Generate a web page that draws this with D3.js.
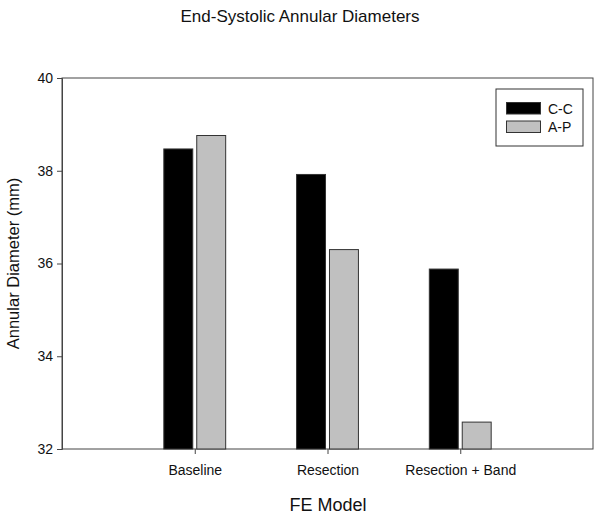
<!DOCTYPE html>
<html>
<head>
<meta charset="utf-8">
<script src="https://cdn.jsdelivr.net/npm/d3@7"></script>
<style>
  body { margin: 0; background: #fff; }
  text { font-family: "Liberation Sans", Arial, sans-serif; fill: #111; }
</style>
</head>
<body>
<svg id="chart" width="600" height="517"></svg>
<script>
const categories = ["Baseline", "Resection", "Resection + Band"];
const seriesNames = ["C-C", "A-P"];
const ccValues = [38.47, 37.92, 35.88];
const apValues = [38.76, 36.30, 32.58];
const yTicks = [32, 34, 36, 38, 40];
const seriesColors = ["#000000", "#c0c0c0"];

const svg = d3.select("#chart");
const margin = {left: 62, right: 7, top: 78, bottom: 68};
const W = 600, H = 517;
const plotW = W - margin.left - margin.right;
const plotH = H - margin.top - margin.bottom;

const x = d3.scaleLinear().domain([0, categories.length + 1]).range([margin.left, margin.left + plotW]);
const y = d3.scaleLinear().domain([32, 40]).range([margin.top + plotH, margin.top]);

const barW = 0.218; // in category units
const gapHalf = 0.015;

// frame
svg.append("rect")
  .attr("x", margin.left).attr("y", margin.top)
  .attr("width", plotW).attr("height", plotH)
  .attr("fill", "none").attr("stroke", "#444").attr("stroke-width", 1);

const series = [ccValues, apValues];
series.forEach((vals, si) => {
  svg.append("g").selectAll("rect").data(vals).join("rect")
    .attr("x", (d, i) => si === 0 ? x(i + 1 - gapHalf - barW) : x(i + 1 + gapHalf))
    .attr("width", x(barW) - x(0))
    .attr("y", d => y(d))
    .attr("height", d => y(32) - y(d))
    .attr("fill", seriesColors[si])
    .attr("stroke", "#333").attr("stroke-width", 1);
});

// y axis
const yAxis = d3.axisLeft(y).tickValues(yTicks).tickSize(5).tickPadding(4).tickFormat(d3.format("d"));
const gy = svg.append("g").attr("transform", `translate(${margin.left},0)`).call(yAxis);
gy.select(".domain").attr("stroke", "#444");
gy.selectAll(".tick line").attr("stroke", "#444");
gy.selectAll(".tick text").style("font-size", "14px").style("font-family", "Liberation Sans, Arial, sans-serif").attr("fill", "#111");

// x axis
const xAxis = d3.axisBottom(x).tickValues(categories.map((c, i) => i + 1))
  .tickFormat((d) => categories[d - 1]).tickSize(5).tickPadding(11);
const gx = svg.append("g").attr("transform", `translate(0,${margin.top + plotH})`).call(xAxis);
gx.select(".domain").remove();
gx.selectAll(".tick line").attr("stroke", "#444");
gx.selectAll(".tick text").style("font-size", "14px").style("font-family", "Liberation Sans, Arial, sans-serif").attr("fill", "#111");

// title
svg.append("text").attr("x", 300).attr("y", 22).attr("text-anchor", "middle")
  .style("font-size", "17px").text("End-Systolic Annular Diameters");

// axis titles
svg.append("text").attr("x", 328).attr("y", 511).attr("text-anchor", "middle")
  .style("font-size", "18px").text("FE Model");
svg.append("text").attr("transform", `translate(19,${margin.top + plotH / 2}) rotate(-90)`)
  .attr("text-anchor", "middle").style("font-size", "16.5px").text("Annular Diameter (mm)");

// legend
const lg = svg.append("g");
lg.append("rect").attr("x", 496).attr("y", 89).attr("width", 87).attr("height", 57)
  .attr("fill", "#fff").attr("stroke", "#333").attr("stroke-width", 1);
seriesNames.forEach((name, i) => {
  lg.append("rect").attr("x", 506.5).attr("y", 102.5 + i * 18.5).attr("width", 34).attr("height", 11.5)
    .attr("fill", seriesColors[i]).attr("stroke", "#333").attr("stroke-width", 1);
  lg.append("text").attr("x", 548).attr("y", 113.5 + i * 18.5).style("font-size", "14px").text(name);
});
</script>
</body>
</html>
